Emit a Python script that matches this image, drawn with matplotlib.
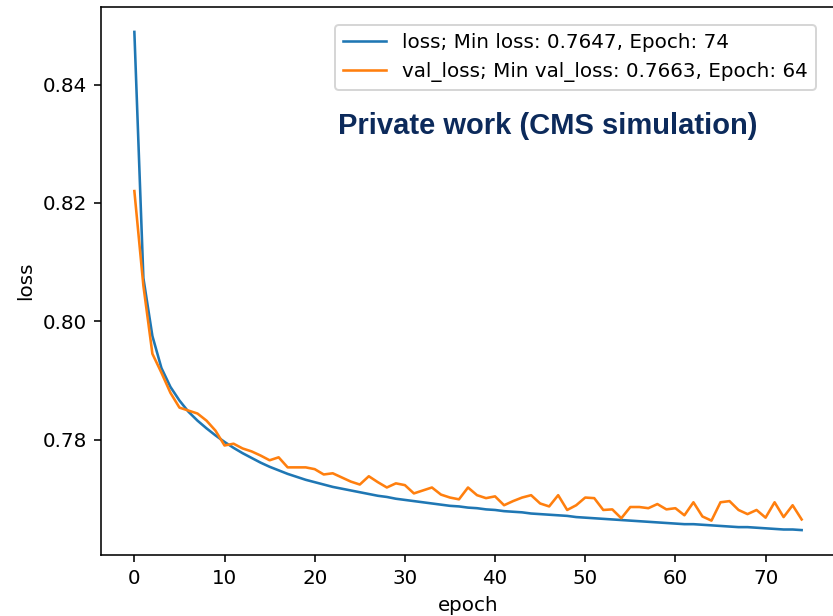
import matplotlib
matplotlib.use("Agg")
import matplotlib.pyplot as plt
import numpy as np

# training history
loss = [0.8489, 0.8073, 0.7975, 0.7921, 0.7889, 0.7866, 0.7847, 0.7832, 0.7819, 0.7807,
        0.7796, 0.7786, 0.7777, 0.7769, 0.7761, 0.7754, 0.7748, 0.7742, 0.7737, 0.7732,
        0.7728, 0.7724, 0.7720, 0.7717, 0.7714, 0.7711, 0.7708, 0.7705, 0.7703, 0.7700,
        0.7698, 0.7696, 0.7694, 0.7692, 0.7690, 0.7688, 0.7687, 0.7685, 0.7684, 0.7682,
        0.7681, 0.7679, 0.7678, 0.7677, 0.7675, 0.7674, 0.7673, 0.7672, 0.7671, 0.7669,
        0.7668, 0.7667, 0.7666, 0.7665, 0.7664, 0.7663, 0.7662, 0.7661, 0.7660, 0.7659,
        0.7658, 0.7657, 0.7657, 0.7656, 0.7655, 0.7654, 0.7653, 0.7652, 0.7652, 0.7651,
        0.7650, 0.7649, 0.7648, 0.7648, 0.7647]
val_loss = [0.8220, 0.8060, 0.7945, 0.7913, 0.7879, 0.7854, 0.7849, 0.7844, 0.7832, 0.7815,
            0.7790, 0.7793, 0.7785, 0.7780, 0.7773, 0.7765, 0.7770, 0.7753, 0.7753, 0.7753,
            0.7750, 0.7741, 0.7743, 0.7736, 0.7729, 0.7724, 0.7738, 0.7728, 0.7719, 0.7726,
            0.7723, 0.7709, 0.7714, 0.7719, 0.7707, 0.7702, 0.7699, 0.7719, 0.7706, 0.7701,
            0.7704, 0.7689, 0.7696, 0.7702, 0.7706, 0.7692, 0.7687, 0.7706, 0.7681, 0.7689,
            0.7702, 0.7701, 0.7681, 0.7682, 0.7667, 0.7686, 0.7686, 0.7684, 0.7691, 0.7682,
            0.7684, 0.7672, 0.7694, 0.7670, 0.7663, 0.7694, 0.7696, 0.7681, 0.7674, 0.7681,
            0.7668, 0.7694, 0.7669, 0.7689, 0.7665]
epochs = np.arange(len(loss))

i_loss = int(np.argmin(loss))
i_val = int(np.argmin(val_loss))

fig = plt.figure(figsize=(833 / 143, 616 / 143), dpi=143)
ax = fig.add_axes([101 / 833, 61 / 616, 734 / 833, 548 / 616])

ax.plot(epochs, loss, color='#1f77b4', lw=1.3,
        label=f"loss; Min loss: {loss[i_loss]:.4f}, Epoch: {i_loss}")
ax.plot(epochs, val_loss, color='#ff7f0e', lw=1.3,
        label=f"val_loss; Min val_loss: {val_loss[i_val]:.4f}, Epoch: {i_val}")

ax.set_yticks([0.78, 0.80, 0.82, 0.84])
ax.set_xlabel('epoch')
ax.set_ylabel('loss')

ax.legend(loc='upper right', bbox_to_anchor=(816 / 833, 1 - 25 / 616),
          bbox_transform=fig.transFigure, borderaxespad=0, handlelength=2.2)

fig.text(338 / 833, 1 - 133.5 / 616, 'Private work (CMS simulation)',
         family='Liberation Sans', weight='bold', fontsize=14.7,
         color='#0c2a5b', va='baseline', ha='left')

fig.savefig('out.png', dpi=143)
